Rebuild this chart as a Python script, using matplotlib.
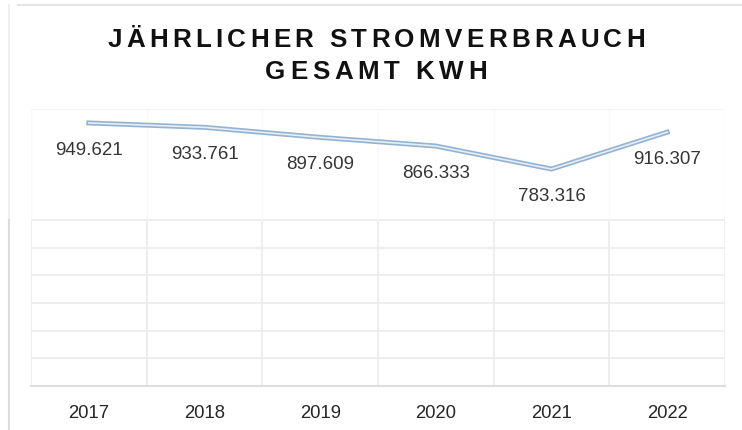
import matplotlib

matplotlib.use("Agg")
import matplotlib.pyplot as plt
from matplotlib.font_manager import FontProperties
from matplotlib.lines import Line2D

years = ["2017", "2018", "2019", "2020", "2021", "2022"]
kwh = [949621, 933761, 897609, 866333, 783316, 916307]
kwh_labels = ["949.621", "933.761", "897.609", "866.333", "783.316", "916.307"]
title_lines = ["JÄHRLICHER STROMVERBRAUCH", "GESAMT KWH"]

W, H, DPI = 742, 430, 100
FONT = "Liberation Sans"


def spaced_text(fig, text, x_center_px, baseline_px, prop, spacing_px):
    """Draw text letter by letter with extra tracking, centred on x_center_px."""
    renderer = fig.canvas.get_renderer()
    widths = []
    for ch in text:
        w, _, _ = renderer.get_text_width_height_descent(ch, prop, ismath=False)
        widths.append(w)
    total = sum(widths) + spacing_px * (len(text) - 1)
    x = x_center_px - total / 2
    for ch, w in zip(text, widths):
        fig.text(x / W, 1 - baseline_px / H, ch, fontproperties=prop,
                 ha="left", va="baseline", color="#111111")
        x += w + spacing_px


fig = plt.figure(figsize=(W / DPI, H / DPI), dpi=DPI)
fig.patch.set_facecolor("white")

# plot area in pixels: x 31..725, y 109 (=1000) .. 386 (=0)
ax = fig.add_axes([31 / W, 1 - 386 / H, (725 - 31) / W, (386 - 109) / H])
ax.set_xlim(-0.5, len(years) - 0.5)
ax.set_ylim(0, 1000)

# visible horizontal grid only in the lower band, faint one on top
for v in range(100, 700, 100):
    ax.axhline(v, color="#ebebeb", lw=1.2, zorder=0)
ax.axhline(1000, color="#f3f3f3", lw=1.5, zorder=0)
for b in [i - 0.5 for i in range(len(years) + 1)]:
    ax.vlines(b, 0, 600, color="#ebebeb", lw=1.2, zorder=0)
    ax.vlines(b, 600, 1000, color="#f8f8f8", lw=1.0, zorder=0)

xs = list(range(len(years)))
vals = [v / 1000 for v in kwh]
ax.plot(xs, vals, color="#93b3d3", lw=3.6, solid_joinstyle="miter", zorder=3)
ax.plot(xs, vals, color="#e6eef6", lw=1.2, solid_joinstyle="miter", zorder=4)

for x, v, lab in zip(xs, vals, kwh_labels):
    ax.annotate(lab, (x, v), xytext=(0, -19.5), textcoords="offset points",
                ha="center", va="center", fontsize=13.5, family=FONT,
                color="#353535")

ax.set_xticks(xs)
ax.set_xticklabels(years, fontsize=13.3, family=FONT, color="#262626")
ax.set_yticks([])
ax.tick_params(axis="x", length=0, pad=14)
for side in ["top", "right", "left"]:
    ax.spines[side].set_visible(False)
ax.spines["bottom"].set_color("#dedede")
ax.spines["bottom"].set_linewidth(1.5)

title_prop = FontProperties(family=FONT, weight="bold", size=18.7)
spaced_text(fig, title_lines[0], 376, 47, title_prop, 4.3)
spaced_text(fig, title_lines[1], 376, 79, title_prop, 4.6)

# screenshot frame edges
fig.add_artist(Line2D([18 / W, 1], [1 - 5 / H, 1 - 5 / H], color="#e4e4e4", lw=1.5))
fig.add_artist(Line2D([9 / W, 9 / W], [0, 1 - 218 / H], color="#dcdcdc", lw=1.5))
fig.add_artist(Line2D([9 / W, 9 / W], [1 - 218 / H, 1 - 5 / H], color="#efefef", lw=1.5))

fig.savefig("out.png", dpi=DPI, facecolor="white")
